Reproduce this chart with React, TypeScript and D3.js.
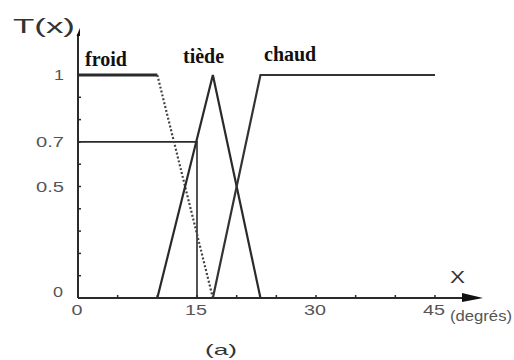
import React from "react";
import * as d3 from "d3";

const xTickLabels = [0, 15, 30, 45];
const xMinorTicks = [5, 10, 15, 20, 25, 30, 35, 40, 45];
const yTickLabels = [0, 0.5, 0.7, 1];
const yMinorTicks = [0.1, 0.2, 0.3, 0.4, 0.5, 0.6, 0.7, 0.8, 0.9, 1];

const froidFlatX = [0, 10];
const froidFlatY = [1, 1];
const froidSlopeX = [10, 17];
const froidSlopeY = [1, 0];
const tiedeX = [10, 17, 23];
const tiedeY = [0, 1, 0];
const chaudX = [17, 23, 45];
const chaudY = [0, 1, 1];
const readX = 15;
const readY = 0.7;

const setNames = ["froid", "tiède", "chaud"];

export default function App() {
  const x = d3.scaleLinear().domain([0, 45]).range([78, 435]);
  const y = d3.scaleLinear().domain([0, 1]).range([298, 75]);
  const line = d3
    .line<[number, number]>()
    .x((d) => x(d[0]))
    .y((d) => y(d[1]));
  const zip = (xs: number[], ys: number[]) =>
    xs.map((v, i) => [v, ys[i]] as [number, number]);

  const ink = "#2a2a2a";
  const sans = "'Liberation Sans', Arial, sans-serif";
  const serif = "'Liberation Serif', 'Times New Roman', serif";
  const tickLabelColor = "#555";
  const labelPos = [
    { x: 85, y: 66 },
    { x: 183, y: 63 },
    { x: 264, y: 61 },
  ];

  return (
    <svg
      width={514}
      height={360}
      style={{ position: "absolute", left: 0, top: 0, background: "#fff" }}
    >
      {/* axes */}
      <line x1={x(0)} y1={y(0)} x2={466} y2={y(0)} stroke={ink} strokeWidth={2} />
      <path d={`M462,${y(0) - 5} L483,${y(0)} L462,${y(0) + 4} Z`} fill="#111" />
      <line x1={x(0)} y1={y(0)} x2={x(0)} y2={34} stroke={ink} strokeWidth={2} />
      <path d={`M${x(0) - 1.5},36 L${x(0) + 2},28 L${x(0) + 2},36 Z`} fill="#111" />

      {xMinorTicks.map((t) => (
        <line key={"xt" + t} x1={x(t)} x2={x(t)} y1={y(0)} y2={y(0) - 3} stroke={ink} strokeWidth={1.5} />
      ))}
      {yMinorTicks.map((t) => (
        <line key={"yt" + t} x1={x(0)} x2={x(0) + 3} y1={y(t)} y2={y(t)} stroke={ink} strokeWidth={1.5} />
      ))}

      {xTickLabels.map((t) => (
        <text
          key={"xl" + t}
          x={x(t) - 1}
          y={315}
          textAnchor="middle"
          fontFamily={sans}
          fontSize={15}
          fill={tickLabelColor}
          textLength={t === 0 ? 11 : 22}
          lengthAdjust="spacingAndGlyphs"
        >
          {t}
        </text>
      ))}
      {yTickLabels.map((t) => {
        const s = String(t);
        const w = s.length === 1 ? 10 : 28;
        return (
          <text
            key={"yl" + t}
            x={t === 0 ? 63 : 64}
            y={y(t) + (t === 0 ? -1 : 5)}
            textAnchor="end"
            fontFamily={sans}
            fontSize={15}
            fill={tickLabelColor}
            textLength={w}
            lengthAdjust="spacingAndGlyphs"
          >
            {s}
          </text>
        );
      })}

      <text x={13} y={33} fontFamily={sans} fontSize={20} fill="#333" textLength={62} lengthAdjust="spacingAndGlyphs">
        T(x)
      </text>
      <text x={450} y={283} fontFamily={sans} fontSize={16} fill="#333" textLength={15} lengthAdjust="spacingAndGlyphs">
        X
      </text>
      <text x={450} y={321} fontFamily={sans} fontSize={15} fill="#555" textLength={62} lengthAdjust="spacingAndGlyphs">
        (degrés)
      </text>
      <text x={221} y={355} textAnchor="middle" fontFamily={sans} fontSize={15} fill="#333" textLength={32} lengthAdjust="spacingAndGlyphs">
        (a)
      </text>

      {/* reading lines */}
      <path d={line(zip([0, readX, readX], [readY, readY, 0])) || ""} fill="none" stroke={ink} strokeWidth={1.6} />

      {/* membership functions */}
      <path d={line(zip(froidFlatX, froidFlatY)) || ""} fill="none" stroke={ink} strokeWidth={3} />
      <path
        d={line(zip(froidSlopeX, froidSlopeY)) || ""}
        fill="none"
        stroke="#444"
        strokeWidth={2.2}
        strokeDasharray="2,2"
      />
      <path d={line(zip(tiedeX, tiedeY)) || ""} fill="none" stroke={ink} strokeWidth={2.2} />
      <path d={line(zip(chaudX, chaudY)) || ""} fill="none" stroke="#333" strokeWidth={2.2} />

      {setNames.map((name, i) => (
        <text key={name} x={labelPos[i].x} y={labelPos[i].y} fontFamily={serif} fontWeight="bold" fontSize={20} fill="#111">
          {name}
        </text>
      ))}
    </svg>
  );
}
